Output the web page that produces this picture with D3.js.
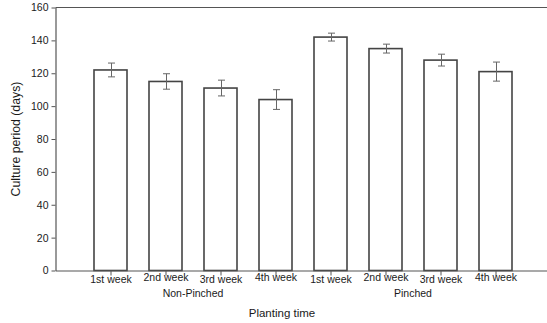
<!DOCTYPE html>
<html>
<head>
<meta charset="utf-8">
<script src="https://cdn.jsdelivr.net/npm/d3@7/dist/d3.min.js"></script>
<style>
  html, body { margin: 0; padding: 0; background: #fff; }
  svg { display: block; font-family: "Liberation Sans", Arial, sans-serif; }
</style>
</head>
<body>
<svg id="chart" width="547" height="323"></svg>
<script>
// Culture period by planting week, non-pinched vs pinched plants
const weeks = ["1st week", "2nd week", "3rd week", "4th week",
               "1st week", "2nd week", "3rd week", "4th week"];
const groups = ["Non-Pinched", "Pinched"];
const groupOf = [0, 0, 0, 0, 1, 1, 1, 1];
const means = [122, 115, 111, 104, 142, 135, 128, 121];
const errors = [4.2, 4.7, 4.8, 6.0, 2.4, 2.7, 3.6, 5.8];
const yTicks = [0, 20, 40, 60, 80, 100, 120, 140, 160];

const svg = d3.select("#chart");
const plotLeft = 55.5, plotRight = 550.5, plotTop = 7.5, plotBottom = 270.5;
const fontFamily = "'Liberation Sans', Arial, sans-serif";

// slot positions: bar i sits at slot i+1 of nine equal steps
const x = d3.scaleLinear().domain([0, weeks.length + 1]).range([plotLeft, plotRight]);
const y = d3.scaleLinear().domain([0, 160]).range([plotBottom, plotTop]);
const step = x(1) - x(0);
const barW = step * 0.6;

// frame: top border
svg.append("line")
  .attr("x1", plotLeft).attr("x2", plotRight).attr("y1", plotTop).attr("y2", plotTop)
  .attr("stroke", "#555").attr("stroke-width", 1.2);

// bars
svg.append("g").selectAll("rect").data(means).join("rect")
  .attr("x", (d, i) => x(i + 1) - barW / 2)
  .attr("y", d => y(d))
  .attr("width", barW)
  .attr("height", d => plotBottom - y(d))
  .attr("fill", "#fff")
  .attr("stroke", "#444")
  .attr("stroke-width", 1.6);

// error bars
const eb = svg.append("g").attr("stroke", "#666").attr("stroke-width", 1);
means.forEach((m, i) => {
  const cx = Math.round(x(i + 1)) + 0.5;
  eb.append("line").attr("x1", cx).attr("x2", cx)
    .attr("y1", y(m + errors[i])).attr("y2", y(m - errors[i]));
  [m + errors[i], m - errors[i]].forEach(v => {
    eb.append("line").attr("x1", cx - 3.5).attr("x2", cx + 3.5)
      .attr("y1", y(v)).attr("y2", y(v));
  });
});

// y axis
const yAxis = svg.append("g")
  .attr("transform", `translate(${plotLeft},0)`)
  .call(d3.axisLeft(y).tickValues(yTicks).tickSize(4).tickPadding(3).tickSizeOuter(0));
yAxis.select(".domain").attr("stroke", "#555").attr("stroke-width", 1.2);
yAxis.selectAll(".tick line").attr("stroke", "#555");
yAxis.selectAll("text").attr("font-size", 10.5).attr("fill", "#1a1a1a")
  .attr("font-family", fontFamily);

// x axis with week labels (alternate labels sit slightly higher)
const xAxis = svg.append("g")
  .attr("transform", `translate(0,${plotBottom})`)
  .call(d3.axisBottom(x).tickValues(d3.range(1, weeks.length + 1))
    .tickFormat(i => weeks[i - 1]).tickSize(5).tickPadding(3).tickSizeOuter(0));
xAxis.select(".domain").attr("stroke", "#555").attr("stroke-width", 1.2);
xAxis.selectAll(".tick line").attr("stroke", "#555");
xAxis.selectAll("text").attr("font-size", 10.5).attr("fill", "#1a1a1a")
  .attr("font-family", fontFamily)
  .attr("y", 0)
  .attr("dy", (d, i) => i % 2 === 0 ? "12.8px" : "10.8px");

// group labels centred under each set of four weeks
groups.forEach((g, gi) => {
  const idx = d3.range(weeks.length).filter(i => groupOf[i] === gi);
  const cx = (x(idx[0] + 1) + x(idx[idx.length - 1] + 1)) / 2;
  svg.append("text")
    .attr("x", cx).attr("y", 297)
    .attr("text-anchor", "middle")
    .attr("font-size", 10.5).attr("fill", "#1a1a1a")
    .text(g);
});

// axis titles
svg.append("text")
  .attr("x", 282).attr("y", 317)
  .attr("text-anchor", "middle")
  .attr("font-size", 11.5).attr("fill", "#1a1a1a")
  .text("Planting time");

svg.append("text")
  .attr("transform", `translate(19.5,${(plotTop + plotBottom) / 2}) rotate(-90)`)
  .attr("text-anchor", "middle")
  .attr("font-size", 12.3).attr("fill", "#1a1a1a")
  .text("Culture period (days)");
</script>
</body>
</html>
